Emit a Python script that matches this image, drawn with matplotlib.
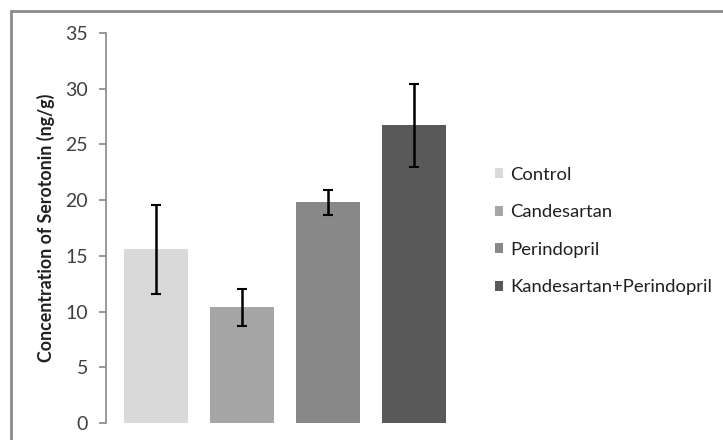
import matplotlib.pyplot as plt
from matplotlib.patches import Patch, Rectangle

# data
groups = ['Control', 'Candesartan', 'Perindopril', 'Kandesartan+Perindopril']
means = [15.6, 10.4, 19.8, 26.7]
errors = [4.0, 1.65, 1.1, 3.7]
colors = ['#d9d9d9', '#a6a6a6', '#888888', '#595959']

plt.rcParams['font.family'] = ['Lato', 'DejaVu Sans']

fig = plt.figure(figsize=(7.23, 4.4), dpi=100)
ax = fig.add_axes([106 / 723, 17 / 440, 358 / 723, 390 / 440])

x = range(len(groups))
ax.bar(x, means, width=0.745, color=colors)
ax.errorbar(x, means, yerr=errors, fmt='none', ecolor='black',
            elinewidth=1.8, capsize=3.5, capthick=1.5)

ax.set_xlim(-0.58, 3.58)
ax.set_ylim(0, 35)
ax.set_yticks(range(0, 36, 5))
ax.set_xticks([])
for s in ['top', 'right', 'bottom']:
    ax.spines[s].set_visible(False)
ax.spines['left'].set_color('#888888')
ax.spines['left'].set_linewidth(1.2)
ax.tick_params(axis='y', length=5, width=1.2, color='#888888',
               labelsize=14, labelcolor='#404040', pad=8)
ax.set_ylabel('Concentration of Serotonin (ng/g)', fontsize=12.8,
              fontweight='bold', color='#202020', labelpad=7)

# legend
handles = [Patch(facecolor=c, label=g) for c, g in zip(colors, groups)]
fig.legend(handles=handles, loc='upper left', bbox_to_anchor=(478 / 723, 1 - 150 / 440),
           frameon=False, fontsize=13.3, handlelength=0.45, handleheight=0.45,
           handletextpad=0.4, labelspacing=1.17, labelcolor='#202020')

# outer chart frame (bottom and right run off the image)
fig.patches.append(Rectangle((11 / 723, -0.1), 1.1, 1 - 11 / 440 + 0.1,
                             transform=fig.transFigure, fill=False,
                             edgecolor='#8c8c8c', linewidth=2))

plt.savefig('out.png', dpi=100)
